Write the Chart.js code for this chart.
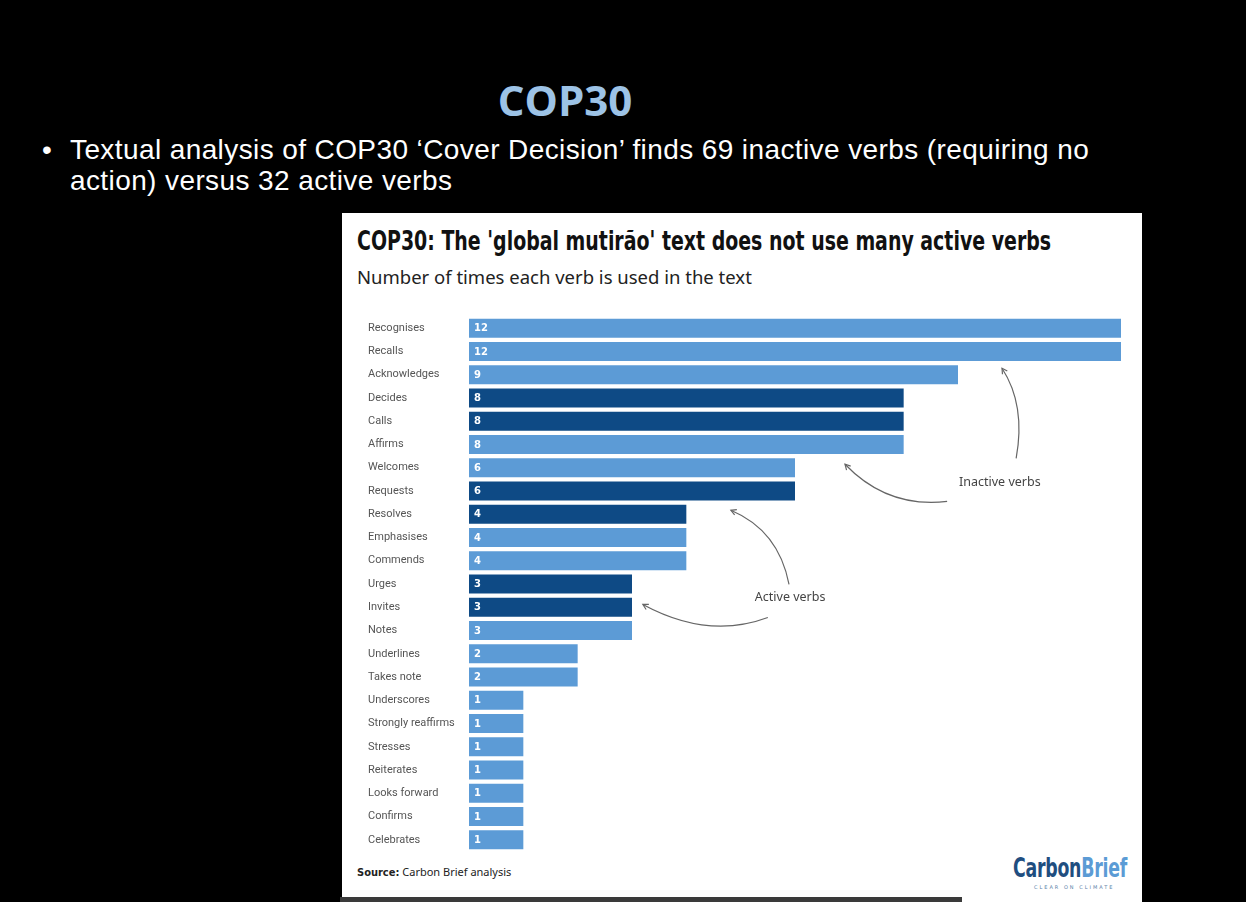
<!DOCTYPE html>
<html>
<head>
<meta charset="utf-8">
<script src="https://cdn.jsdelivr.net/npm/chart.js@4"></script>
<style>
  html, body { margin: 0; padding: 0; background: #000; }
  body { width: 1246px; height: 902px; position: relative; overflow: hidden; }
  .slide-title {
    position: absolute; left: 0; width: 1130px; top: 71px; text-align: center;
    font: bold 42px "Open Sans", sans-serif; color: #9dc3e6;
  }
  .bullet {
    position: absolute; left: 42px; top: 134px; color: #fff;
    font: 28px "Liberation Sans", Arial, sans-serif; line-height: 31px; letter-spacing: 0.4px;
  }
  .bullet .dot { position: absolute; left: 0; top: 0; }
  .bullet .txt { position: absolute; left: 28px; top: 0; white-space: nowrap; }
  .card {
    position: absolute; left: 342px; top: 213px; width: 800px; height: 700px; background: #fff;
  }
  .card-title {
    position: absolute; left: 15px; top: 12px; white-space: nowrap;
    font: bold 27px "DejaVu Sans Condensed", "DejaVu Sans", sans-serif; color: #111;
    transform-origin: left top; transform: scaleX(0.78);
  }
  .card-sub {
    position: absolute; left: 15px; top: 51px; white-space: nowrap;
    font: 18.5px "Noto Sans", sans-serif; color: #222;
  }
  .source {
    position: absolute; left: 15px; top: 651px; white-space: nowrap;
    font: 11px "Noto Sans", sans-serif; color: #222;
  }
  .source b { font-family: "DejaVu Sans Condensed", sans-serif; }
  .logo {
    position: absolute; left: 671px; top: 640px; white-space: nowrap;
    font: bold 26px "DejaVu Sans Condensed", sans-serif; letter-spacing: -0.3px;
    transform-origin: left top; transform: scaleX(0.74);
  }
  .logo .c { color: #1f4e80; }
  .logo .b { color: #5b9bd5; }
  .tag {
    position: absolute; left: 692px; top: 671px; font: 5px "DejaVu Sans", sans-serif;
    color: #5b7fa8; letter-spacing: 2px;
  }
  .chart-box { position: absolute; left: 368px; top: 310px; width: 753px; height: 548px; }
  .bar-strip { position: absolute; left: 340px; top: 897px; width: 622px; height: 5px; background: #3a3a3a; }
</style>
</head>
<body>
<div class="slide-title">COP30</div>
<div class="bullet">
  <span class="dot">•</span>
  <span class="txt">Textual analysis of COP30 ‘Cover Decision’ finds 69 inactive verbs (requiring no<br>action) versus 32 active verbs</span>
</div>
<div class="card">
  <div class="card-title">COP30: The 'global mutirão' text does not use many active verbs</div>
  <div class="card-sub">Number of times each verb is used in the text</div>
  <div class="source"><b>Source:</b> Carbon Brief analysis</div>
  <div class="logo"><span class="c">Carbon</span><span class="b">Brief</span></div>
  <div class="tag">CLEAR ON CLIMATE</div>
</div>
<div class="chart-box"><canvas id="verbs"></canvas></div>
<div class="bar-strip"></div>

<script>
const verbs = [
  "Recognises", "Recalls", "Acknowledges", "Decides", "Calls", "Affirms",
  "Welcomes", "Requests", "Resolves", "Emphasises", "Commends", "Urges",
  "Invites", "Notes", "Underlines", "Takes note", "Underscores",
  "Strongly reaffirms", "Stresses", "Reiterates", "Looks forward",
  "Confirms", "Celebrates",
];
const counts = [12, 12, 9, 8, 8, 8, 6, 6, 4, 4, 4, 3, 3, 3, 2, 2, 1, 1, 1, 1, 1, 1, 1];
const activeVerbs = ["Decides", "Calls", "Requests", "Resolves", "Urges", "Invites"];

const lightBlue = "#5c9bd6";
const darkBlue = "#0e4a85";

// annotation curves in data units: [x, categoryIndex]
const notes = [
  { text: "Inactive verbs", at: [9.77, 6.63],
    arrows: [
      { from: [10.07, 5.6], ctrl: [10.25, 3.3], to: [9.81, 1.72] },
      { from: [8.8, 7.45], ctrl: [7.7, 7.75], to: [6.92, 5.85] },
    ] },
  { text: "Active verbs", at: [5.91, 11.58],
    arrows: [
      { from: [5.89, 11.02], ctrl: [5.7, 8.7], to: [4.82, 7.83] },
      { from: [5.5, 12.44], ctrl: [4.4, 13.4], to: [3.2, 11.88] },
    ] },
];

const valueLabels = {
  id: "valueLabels",
  afterDatasetsDraw(chart) {
    const ctx = chart.ctx;
    const meta = chart.getDatasetMeta(0);
    ctx.save();
    ctx.fillStyle = "#fff";
    ctx.font = "bold 10px 'DejaVu Sans', sans-serif";
    ctx.textBaseline = "middle";
    meta.data.forEach((bar, i) => {
      ctx.fillText(counts[i], bar.base + 5, bar.y + 0.5);
    });
    ctx.restore();
  }
};

const arrowNotes = {
  id: "arrowNotes",
  afterDraw(chart) {
    const ctx = chart.ctx;
    const xs = chart.scales.x, ys = chart.scales.y;
    const pt = p => [xs.getPixelForValue(p[0]), ys.getPixelForValue(p[1])];
    ctx.save();
    ctx.strokeStyle = "#666";
    ctx.lineWidth = 1.2;
    notes.forEach(n => {
      const [tx, ty] = pt(n.at);
      ctx.fillStyle = "#444";
      ctx.font = "12.5px 'Noto Sans', sans-serif";
      ctx.textAlign = "center";
      ctx.textBaseline = "middle";
      ctx.fillText(n.text, tx, ty);
      n.arrows.forEach(a => {
        const [x0, y0] = pt(a.from), [cx, cy] = pt(a.ctrl), [x1, y1] = pt(a.to);
        ctx.beginPath();
        ctx.moveTo(x0, y0);
        ctx.quadraticCurveTo(cx, cy, x1, y1);
        ctx.stroke();
        const ang = Math.atan2(y1 - cy, x1 - cx);
        const h = 6;
        ctx.beginPath();
        ctx.moveTo(x1 - h * Math.cos(ang - 0.5), y1 - h * Math.sin(ang - 0.5));
        ctx.lineTo(x1, y1);
        ctx.lineTo(x1 - h * Math.cos(ang + 0.5), y1 - h * Math.sin(ang + 0.5));
        ctx.stroke();
      });
    });
    ctx.restore();
  }
};

new Chart(document.getElementById("verbs"), {
  type: "bar",
  data: {
    labels: verbs,
    datasets: [{
      data: counts,
      backgroundColor: verbs.map(v => activeVerbs.includes(v) ? darkBlue : lightBlue),
      barPercentage: 0.82,
      categoryPercentage: 1,
    }],
  },
  options: {
    indexAxis: "y",
    responsive: true,
    maintainAspectRatio: false,
    animation: false,
    layout: { padding: 0 },
    plugins: { legend: { display: false }, tooltip: { enabled: false } },
    scales: {
      x: { display: false, min: 0, max: 12 },
      y: {
        grid: { display: false },
        border: { display: false },
        ticks: {
          crossAlign: "far",
          padding: 0,
          color: "#555",
          font: { family: "Roboto, 'Noto Sans', sans-serif", size: 11 },
        },
        afterFit(scale) { scale.width = 101; },
      },
    },
  },
  plugins: [valueLabels, arrowNotes],
});
</script>
</body>
</html>
